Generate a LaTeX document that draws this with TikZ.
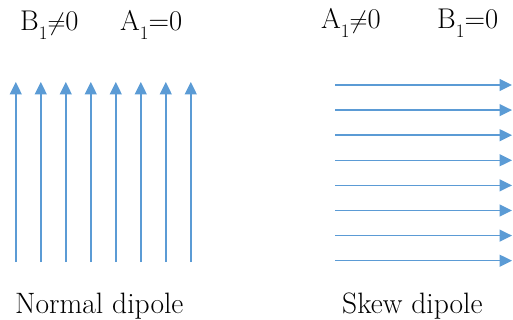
\documentclass[tikz,border=0pt]{standalone}
\usetikzlibrary{arrows.meta}
\definecolor{fieldblue}{HTML}{5B9BD5}
\newcommand{\subone}{\raisebox{-0.3em}{\fontsize{19}{19}\selectfont 1}}
\tikzset{
  fieldline/.style={draw=fieldblue, line width=1.4pt, -{Triangle[width=12pt,length=12.5pt]}, color=fieldblue},
  lbl/.style={anchor=base west, inner sep=0pt, font=\fontsize{28.5}{28.5}\selectfont},
  captext/.style={anchor=base west, inner sep=0pt, font=\fontsize{29.5}{29.5}\selectfont}
}
\begin{document}
\begin{tikzpicture}[x=1pt,y=-1pt]
\useasboundingbox (0,0) rectangle (513,320);
% top labels
\node[lbl] (bn) at (20,31) {B\subone{}$\neq$0};
\node[lbl] (az) at (120,31) {A\subone{}=0};
\node[lbl] (an) at (321,29) {A\subone{}$\neq$0};
\node[lbl] (bz) at (437,29) {B\subone{}=0};
% normal dipole: vertical field lines
\foreach \i in {0,...,7} {
  \coordinate (vb\i) at ({15.8+25*\i},262);
  \coordinate (vt\i) at ({15.8+25*\i},82);
  \draw[fieldline] (vb\i) -- (vt\i);
}
% skew dipole: horizontal field lines
\foreach \i in {0,...,7} {
  \coordinate (hl\i) at (335,{85+25.1*\i});
  \coordinate (hr\i) at (512,{85+25.1*\i});
  \draw[fieldline] (hl\i) -- (hr\i);
}
% captions
\node[captext] (normal) at (15,313) {Normal dipole};
\node[captext] (skew) at (342,313) {Skew dipole};
\end{tikzpicture}
\end{document}
